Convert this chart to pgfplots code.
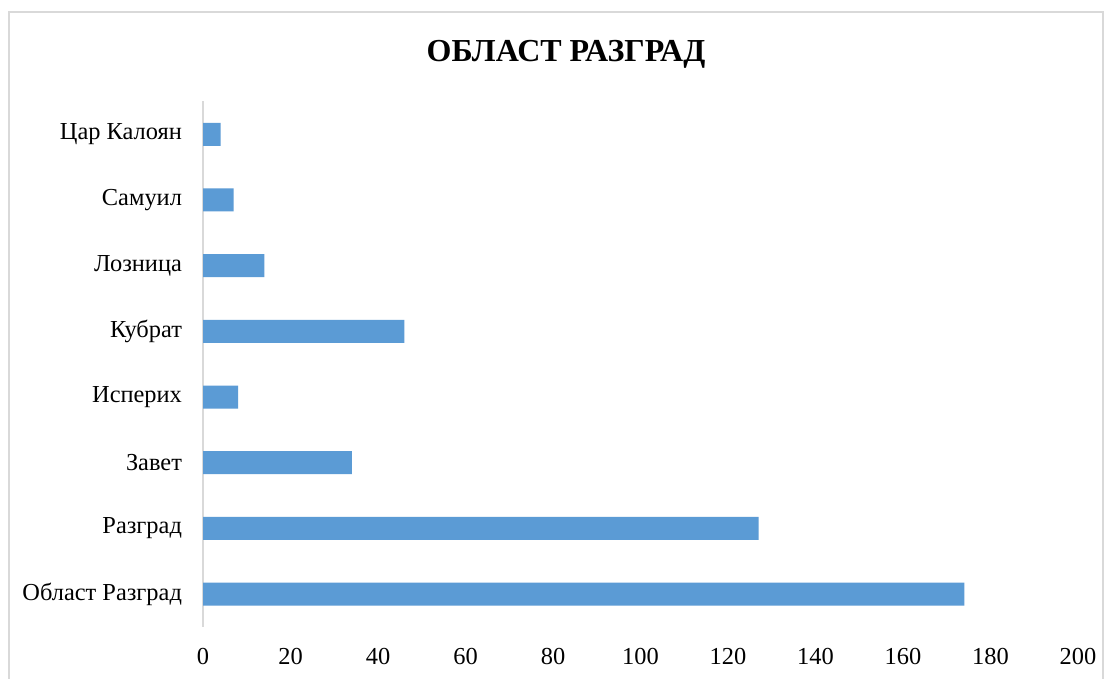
\documentclass[border=0pt]{standalone}
\usepackage{pgfplots}
\pgfplotsset{compat=1.18}
\usepackage{fontspec}
\setmainfont{Liberation Serif}
\definecolor{barblue}{HTML}{5B9BD5}
\definecolor{framegray}{HTML}{D9D9D9}
\begin{document}
\begin{tikzpicture}
\useasboundingbox (0,0) rectangle (556.5pt,339.5pt);
\fill[white] (0,0) rectangle (556.5pt,339.5pt);
\draw[framegray, line width=0.8pt] (4.5pt,-10pt) -- (4.5pt,333.5pt) -- (551.5pt,333.5pt) -- (551.5pt,-10pt);
\node[font=\fontsize{16pt}{18pt}\selectfont\bfseries] at (283pt,312.3pt) {ОБЛАСТ РАЗГРАД};
\begin{axis}[
  at={(101.5pt,26pt)}, anchor=south west,
  scale only axis, width=437.5pt, height=262.8pt,
  xbar, bar width=11.5pt,
  xmin=0, xmax=200, ymin=-0.5, ymax=7.5,
  xtick={0,20,...,200},
  ytick={0,...,7},
  yticklabels={Област Разград,Разград,Завет,Исперих,Кубрат,Лозница,Самуил,Цар Калоян},
  axis x line*=bottom, axis y line*=left,
  x axis line style={draw=none},
  y axis line style={draw=framegray, line width=0.8pt, -},
  major tick length=0pt,
  tick label style={font=\fontsize{12.2pt}{14pt}\selectfont},
  /pgf/number format/assume math mode=true,
  xticklabel style={yshift=-7pt},
  yticklabel style={xshift=-7pt},
  clip=false,
]
\addplot[fill=barblue, draw=none] coordinates {
  (174,0) (127,1) (34,2) (8,3) (46,4) (14,5) (7,6) (4,7)
};
\end{axis}
\end{tikzpicture}
\end{document}
